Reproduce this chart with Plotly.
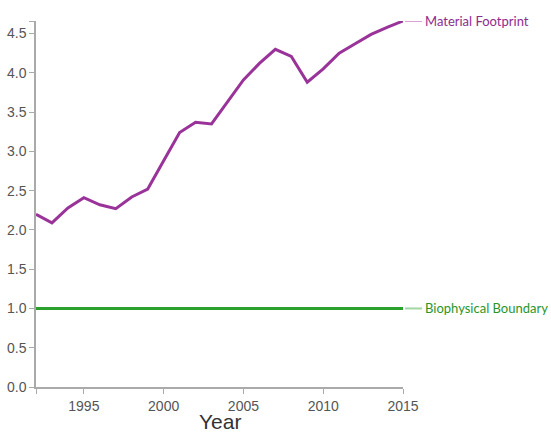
import plotly.graph_objects as go

years = list(range(1992, 2016))
material_footprint = [2.20, 2.09, 2.28, 2.41, 2.32, 2.27, 2.42, 2.52, 2.88, 3.24,
                      3.37, 3.35, 3.63, 3.91, 4.12, 4.30, 4.21, 3.88, 4.05, 4.25,
                      4.37, 4.49, 4.58, 4.66]
boundary = [1.0] * len(years)
series_labels = ["Material Footprint", "Biophysical Boundary"]
x_tickvals = [1992, 1995, 2000, 2005, 2010, 2015]
x_ticktext = ["", "1995", "2000", "2005", "2010", "2015"]
y_tickvals = [0.0, 0.5, 1.0, 1.5, 2.0, 2.5, 3.0, 3.5, 4.0, 4.5]

purple = "#9a3399"
green = "#2ca02c"

fig = go.Figure()
fig.add_trace(go.Scatter(x=years, y=boundary, mode="lines",
                         line=dict(color=green, width=3), hoverinfo="skip"))
fig.add_trace(go.Scatter(x=years, y=material_footprint, mode="lines",
                         line=dict(color=purple, width=3), hoverinfo="skip"))

ymax = max(material_footprint)
W, H = 551, 432
ml, mr, mt, mb = 36, 148, 21, 45
pw = W - ml - mr
ph = H - mt - mb

def px_to_paper_x(px):
    return (px - ml) / pw

ends = [(material_footprint[-1], series_labels[0], "#d9a2d9", "#8e2b8e"),
        (boundary[-1], series_labels[1], "#a2d6a2", "#2a952a")]
for yv, txt, lc, tc in ends:
    fig.add_shape(type="line", xref="paper", yref="y",
                  x0=px_to_paper_x(405), x1=px_to_paper_x(422), y0=yv, y1=yv,
                  line=dict(color=lc, width=2))
    fig.add_annotation(xref="paper", yref="y", x=px_to_paper_x(423), y=yv,
                       text=txt, showarrow=False, xanchor="left", yanchor="middle",
                       font=dict(family="Lato", size=13, color=tc))

fig.add_annotation(xref="paper", yref="paper", x=0.5, y=(387 - 421) / ph,
                   text="Year", showarrow=False, xanchor="center", yanchor="middle",
                   font=dict(family="Liberation Sans", size=21, color="#333"))

axis_common = dict(showgrid=False, zeroline=False, showline=True, linecolor="#aaa",
                   linewidth=1.5, ticks="outside", ticklen=5, tickcolor="#aaa",
                   tickwidth=1, automargin=False,
                   tickfont=dict(family="Liberation Sans", size=14, color="#555"))
fig.update_xaxes(range=[1992, 2015], tickvals=x_tickvals, ticktext=x_ticktext, **axis_common)
fig.update_yaxes(range=[0, ymax], tickvals=y_tickvals + [ymax],
                 ticktext=[f"{v:.1f}" for v in y_tickvals] + [""], **axis_common)

fig.update_layout(width=W, height=H, margin=dict(l=ml, r=mr, t=mt, b=mb, autoexpand=False),
                  plot_bgcolor="white", paper_bgcolor="white", showlegend=False)
fig.write_html("out.html", config={"displayModeBar": False},
               post_script="document.body.style.margin='0';document.body.style.padding='0';")
